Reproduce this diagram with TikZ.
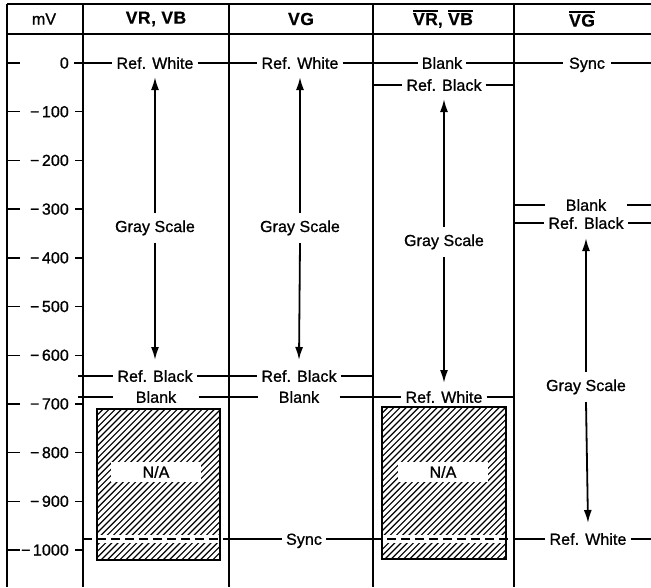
\documentclass[tikz,border=0pt]{standalone}
\usepackage{fontspec}
\setmainfont{Liberation Sans}
\newfontfamily\lf{Liberation Sans}[LetterSpace=0.5,FakeBold=1.0]
\newfontfamily\hf{Liberation Sans Bold}[LetterSpace=3,FakeBold=0.5]
\usetikzlibrary{arrows.meta}
\newcommand\myovl[1]{\vbox{\hrule height 1.4pt\kern1.6pt\hbox{#1}}}
\begin{document}
\begin{tikzpicture}[x=1pt,y=-1pt,
  frm/.style={line width=1.4pt},
  lev/.style={line width=1.8pt},
  lbl/.style={font=\lf\fontsize{16}{18}\selectfont, inner xsep=4pt, inner ysep=0pt, text height=11.5pt, text depth=0pt},
  wbox/.style={inner xsep=0pt, minimum width=#1},
  gsl/.style={font=\lf\fontsize{16}{18}\selectfont, inner xsep=0pt, inner ysep=7.5pt, text height=11.5pt, text depth=3.5pt},
  hdr/.style={font=\hf\fontsize{17.5}{20}\selectfont},
  tkl/.style={font=\lf\fontsize{16}{18}\selectfont, anchor=east, inner sep=0pt},
  arr/.style={line width=1.8pt, -{Latex[length=13pt,width=8pt]}},
  hbox/.style={draw, line width=2pt, inner sep=0pt},
  hl/.style={line width=1.15pt},
  band/.style={white, line width=8pt},
  nab/.style={fill=white, minimum width=90pt, minimum height=20pt, inner sep=0pt, font=\lf\fontsize{16}{18}\selectfont},
  dsh/.style={line width=1.9pt, dash pattern=on 9pt off 5pt}
]
\useasboundingbox (0,0) rectangle (651,587);
% frame
\draw[frm] (7,4) -- (651,4);
\draw[frm] (7,34) -- (651,34);
\foreach \x in {7,83,229,373,514} \draw[frm] (\x,4) -- (\x,587);
% headers
\node[font=\lf\fontsize{16}{18}\selectfont] (hmv) at (44,19) {mV};
\node[hdr] (h1) at (156,19) {VR, VB};
\node[hdr] (h2) at (301,19) {VG};
\node[hdr] (h3) at (443,19) {\myovl{VR}, \myovl{VB}};
\node[hdr] (h4) at (582,19) {\myovl{VG}};
% scale
\foreach \v in {0,100,...,1000}{
  \pgfmathsetmacro\yy{63+0.487*\v}
  \draw[frm] (7,\yy) -- (20,\yy);
  \ifnum\v>0 \draw[frm] (75,\yy) -- (83,\yy); \fi
  \node[tkl] (t\v) at (69,\yy) {\ifnum\v=0 0\else −\kern2.5pt\v\fi};
}
% hatched N/A boxes
\begin{scope}
  \clip (97,409) rectangle (220,560);
  \foreach \k in {0,...,45} \draw[hl] ({-54+\k*6.2},560) -- ++(151,-151);
  \draw[band] (97,539) -- (220,539);
\end{scope}
\begin{scope}
  \clip (382,407) rectangle (506,559);
  \foreach \k in {0,...,45} \draw[hl] ({230+\k*6.2},559) -- ++(152,-152);
  \draw[band] (382,539) -- (506,539);
\end{scope}
\node[hbox, minimum width=123pt, minimum height=151pt] (box1) at (158.5,484.5) {};
\node[hbox, minimum width=124pt, minimum height=152pt] (box2) at (444,483) {};
\node[nab] (na1) at (156,472) {N/A};
\node[nab] (na2) at (443,472) {N/A};
% level labels
\node[lbl] (rw1) at (155,63) {Ref. White};
\node[lbl] (rw2) at (300,63) {Ref. White};
\node[lbl] (bk3) at (442,63) {Blank};
\node[lbl, inner xsep=6pt] (sy4) at (587,63) {Sync};
\node[lbl] (rb3) at (444,85) {Ref. Black};
\node[lbl, wbox=82pt] (bk4) at (586,205) {Blank};
\node[lbl] (rb4) at (586,223) {Ref. Black};
\node[lbl] (rb1) at (155,376) {Ref. Black};
\node[lbl] (rb2) at (299,376) {Ref. Black};
\node[lbl, wbox=85pt] (bk1) at (156,397) {Blank};
\node[lbl, wbox=81pt] (bk2) at (299,397) {Blank};
\node[lbl] (rw3) at (444,397) {Ref. White};
\node[lbl] (sy2) at (304,539) {Sync};
\node[lbl] (rw4) at (588,539) {Ref. White};
% free ends
\coordinate (a0) at (74,63);
\coordinate (e0) at (651,63);
\coordinate (a85) at (373,85);
\coordinate (e85) at (514,85);
\coordinate (a205) at (514,205);
\coordinate (e205) at (651,205);
\coordinate (a223) at (514,223);
\coordinate (e223) at (651,223);
\coordinate (a376) at (78,376);
\coordinate (e376) at (373,376);
\coordinate (a397) at (78,397);
\coordinate (e397) at (514,397);
\coordinate (d1a) at (83,539);
\coordinate (d1b) at (229,539);
\coordinate (d2a) at (373,539);
\coordinate (d2b) at (514,539);
\coordinate (e539) at (651,539);
% level lines
\draw[lev] (a0) -- (rw1.west) (rw1.east) -- (rw2.west) (rw2.east) -- (bk3.west) (bk3.east) -- (sy4.west) (sy4.east) -- (e0);
\draw[lev] (a85) -- (rb3.west) (rb3.east) -- (e85);
\draw[lev] (a205) -- (bk4.west) (bk4.east) -- (e205);
\draw[lev] (a223) -- (rb4.west) (rb4.east) -- (e223);
\draw[lev] (a376) -- (rb1.west) (rb1.east) -- (rb2.west) (rb2.east) -- (e376);
\draw[lev] (a397) -- (bk1.west) (bk1.east) -- (bk2.west) (bk2.east) -- (rw3.west) (rw3.east) -- (e397);
\draw[dsh] (d1a) -- (d1b);
\draw[lev] (d1b) -- (sy2.west) (sy2.east) -- (d2a);
\draw[dsh] (d2a) -- (d2b);
\draw[lev] (d2b) -- (rw4.west) (rw4.east) -- (e539);
% gray scale arrows
\node[gsl] (gs1) at (155,228) {Gray Scale};
\node[gsl] (gs2) at (300,228) {Gray Scale};
\node[gsl] (gs3) at (444,242) {Gray Scale};
\node[gsl] (gs4) at (586,387) {Gray Scale};
\draw[arr] (gs1.north) -- ([yshift=-14pt]rw1.center);
\draw[arr] (gs1.south) -- ([yshift=16pt]rb1.center);
\draw[arr] (gs2.north) -- ([yshift=-14pt]rw2.center);
\draw[arr] (gs2.south) -- ([yshift=16pt]rb2.center);
\draw[arr] (gs3.north) -- ([yshift=-14pt]rb3.center);
\draw[arr] (gs3.south) -- ([yshift=14pt]rw3.center);
\draw[arr] (gs4.north) -- ([yshift=-15pt]rb4.center);
\draw[arr] (gs4.south) -- ([yshift=16pt]rw4.center);
\end{tikzpicture}
\end{document}
